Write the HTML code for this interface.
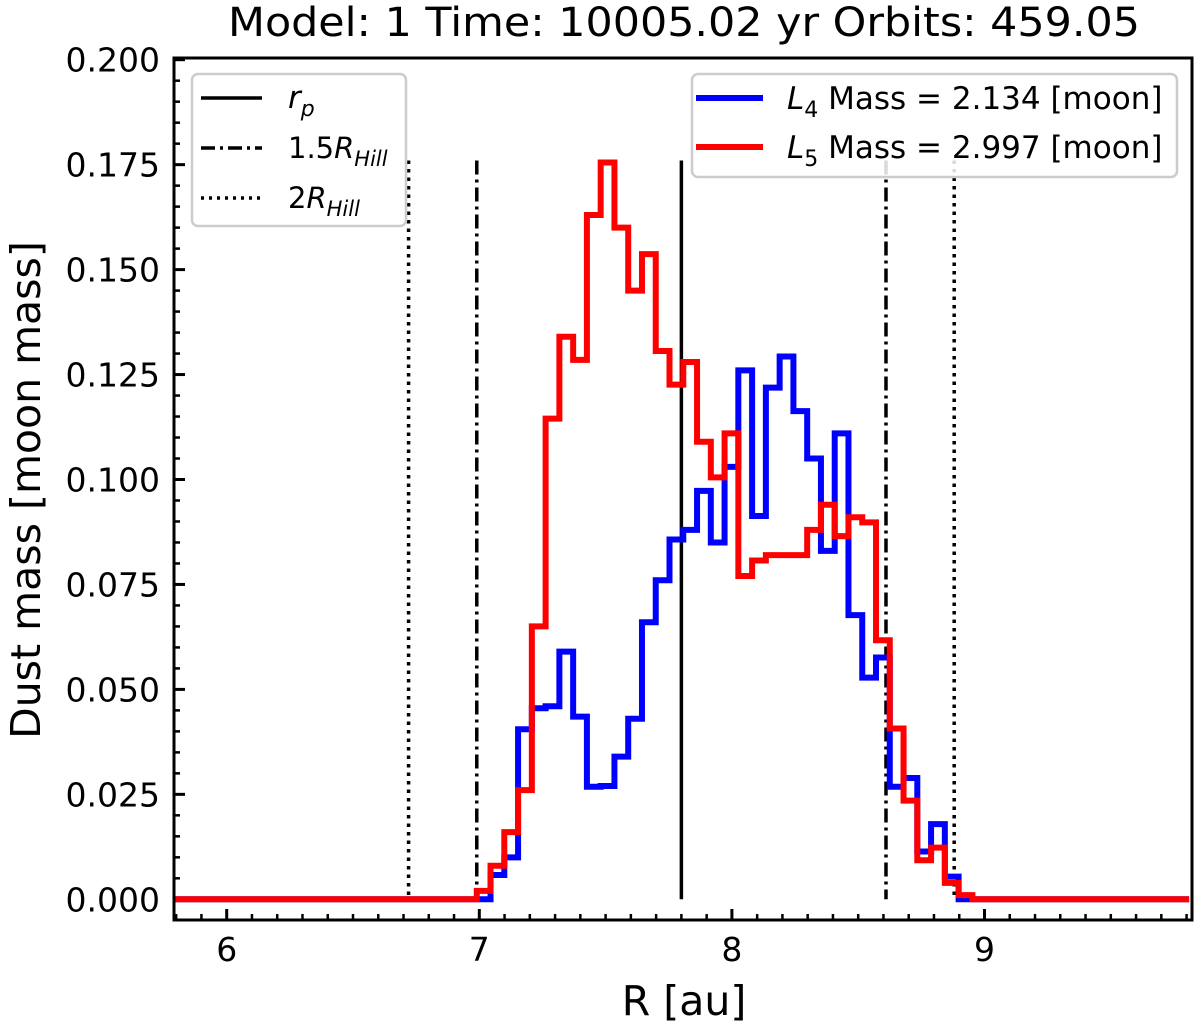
<!DOCTYPE html>
<html><head><meta charset="utf-8"><style>
body{margin:0;background:#fff}
svg{display:block;font-family:"DejaVu Sans","Liberation Sans",sans-serif}
</style></head><body>
<svg id="chart" width="1200" height="1028" viewBox="0 0 1200 1028">
<text x="684" y="36" font-size="40" text-anchor="middle" textLength="912" lengthAdjust="spacingAndGlyphs">Model: 1  Time: 10005.02 yr  Orbits: 459.05</text>
<g id="axes"></g>
<g id="vlines"></g>
<g id="series"></g>
<rect x="174" y="58" width="1018" height="862" fill="none" stroke="#000" stroke-width="3"/>
<g>
<rect x="192" y="74" width="214" height="152" rx="6" fill="#fff" fill-opacity="0.85" stroke="#ccc" stroke-width="2.5"/>
<g><line x1="201" y1="98" x2="262" y2="98" stroke="#000" stroke-width="3.5"/><text x="288" y="108" font-size="31" font-style="italic">r<tspan font-size="22" dy="8">p</tspan></text></g>
<g><line x1="201" y1="148" x2="262" y2="148" stroke="#000" stroke-width="3.5" stroke-dasharray="14,5,3,5"/><text x="288" y="158" font-size="29">1.5<tspan font-style="italic">R</tspan><tspan font-style="italic" font-size="21" dy="8">Hill</tspan></text></g>
<g><line x1="201" y1="198" x2="262" y2="198" stroke="#000" stroke-width="3.5" stroke-dasharray="3,5"/><text x="288" y="208" font-size="29">2<tspan font-style="italic">R</tspan><tspan font-style="italic" font-size="21" dy="8">Hill</tspan></text></g>
</g>
<g>
<rect x="692" y="74" width="485" height="103" rx="6" fill="#fff" fill-opacity="0.85" stroke="#ccc" stroke-width="2.5"/>
<g><line x1="696" y1="98" x2="763" y2="98" stroke="#00f" stroke-width="6"/><text x="787" y="109" font-size="31"><tspan font-style="italic">L</tspan><tspan font-size="22" dy="8">4</tspan><tspan dy="-8"> Mass = 2.134 [moon]</tspan></text></g>
<g><line x1="696" y1="147" x2="763" y2="147" stroke="#f00" stroke-width="6"/><text x="787" y="158" font-size="31"><tspan font-style="italic">L</tspan><tspan font-size="22" dy="8">5</tspan><tspan dy="-8"> Mass = 2.997 [moon]</tspan></text></g>
</g>
<text x="684" y="1015" font-size="41" text-anchor="middle">R [au]</text>
<text transform="translate(40,490) rotate(-90)" font-size="41" text-anchor="middle">Dust mass [moon mass]</text>
</svg>
<script>
const binStart = 6.99;
const binWidth = 0.0545;
const l4Values = [0.000,0.0058,0.010,0.0405,0.0455,0.046,0.059,0.0435,0.0268,0.027,0.034,0.043,0.066,0.076,0.0857,0.088,0.0973,0.085,0.103,0.126,0.0913,0.1219,0.1293,0.1163,0.105,0.083,0.111,0.0677,0.0528,0.0576,0.0268,0.0289,0.0114,0.0179,0.0054,0.000];
const l5Values = [0.002,0.008,0.016,0.026,0.065,0.1145,0.134,0.1285,0.163,0.1755,0.160,0.145,0.1537,0.1306,0.1226,0.128,0.109,0.1005,0.111,0.077,0.0807,0.082,0.082,0.082,0.088,0.094,0.0865,0.091,0.0898,0.0617,0.0407,0.0235,0.0093,0.0123,0.0039,0.001];
const xTicks = [6,7,8,9];
const yTicks = [0,0.025,0.05,0.075,0.1,0.125,0.15,0.175,0.2];
const yTickLabels = ["0.000","0.025","0.050","0.075","0.100","0.125","0.150","0.175","0.200"];
const rp = 7.8;
const hill15 = [6.99,8.61];
const hill2 = [6.72,8.88];
const xMin = 5.79, xMax = 9.81;

const NS="http://www.w3.org/2000/svg";
const X = v => 226.7 + (v-6)*252.6;
const Y = v => 899.3 - v*4198;
function mk(tag, attrs, parent){const e=document.createElementNS(NS,tag);for(const k in attrs)e.setAttribute(k,attrs[k]);parent.appendChild(e);return e;}
const axes=document.getElementById('axes');
xTicks.forEach(t=>{
  const g=mk('g',{},axes);
  
  
  mk('line',{x1:X(t),x2:X(t),y1:920,y2:909,stroke:'#000','stroke-width':3},g);
  const tx=mk('text',{x:X(t),y:961,'font-size':33,'text-anchor':'middle'},g);tx.textContent=t;
});
for(let i=58;i<=98;i++){const v=i/10;if(v<xMin||v>xMax||i%10===0)continue;
  const l=mk('line',{x1:X(v),x2:X(v),y1:920,y2:914,stroke:'#000','stroke-width':2.5},axes);
  
  }
yTicks.forEach((t,i)=>{
  const g=mk('g',{},axes);
  
  
  mk('line',{x1:174,x2:185,y1:Y(t),y2:Y(t),stroke:'#000','stroke-width':3},g);
  const tx=mk('text',{x:160,y:Y(t)+12,'font-size':33,'text-anchor':'end'},g);tx.textContent=yTickLabels[i];
});
for(let i=1;i<40;i++){if(i%5===0)continue;const v=i*0.005;
  const l=mk('line',{x1:174,x2:180,y1:Y(v),y2:Y(v),stroke:'#000','stroke-width':2.5},axes);
  
  }
const vl=document.getElementById('vlines');
const topY=Y(0.176), botY=Y(0);
function vline(v,dash,name){const l=mk('line',{x1:X(v),x2:X(v),y1:topY,y2:botY,stroke:'#000','stroke-width':3.5},vl);if(dash)l.setAttribute('stroke-dasharray',dash);
  
  }
vline(rp,null,'rp-line');
hill15.forEach(v=>vline(v,'14,5,3,5','hill-1.5-line'));
hill2.forEach(v=>vline(v,'3.5,5','hill-2-line'));
function stepPath(vals){
  let d='M'+X(xMin)+','+Y(0)+' L'+X(binStart)+','+Y(0);
  vals.forEach((v,i)=>{const a=binStart+i*binWidth,b=a+binWidth;d+=' L'+X(a)+','+Y(v)+' L'+X(b)+','+Y(v);});
  const end=binStart+vals.length*binWidth;
  d+=' L'+X(end)+','+Y(0)+' L'+X(xMax)+','+Y(0);
  return d;
}
const sg=document.getElementById('series');
const pb=mk('path',{d:stepPath(l4Values),fill:'none',stroke:'#00f','stroke-width':6,'stroke-linejoin':'miter'},sg);


const pr=mk('path',{d:stepPath(l5Values),fill:'none',stroke:'#f00','stroke-width':6,'stroke-linejoin':'miter'},sg);


</script>
</body></html>
